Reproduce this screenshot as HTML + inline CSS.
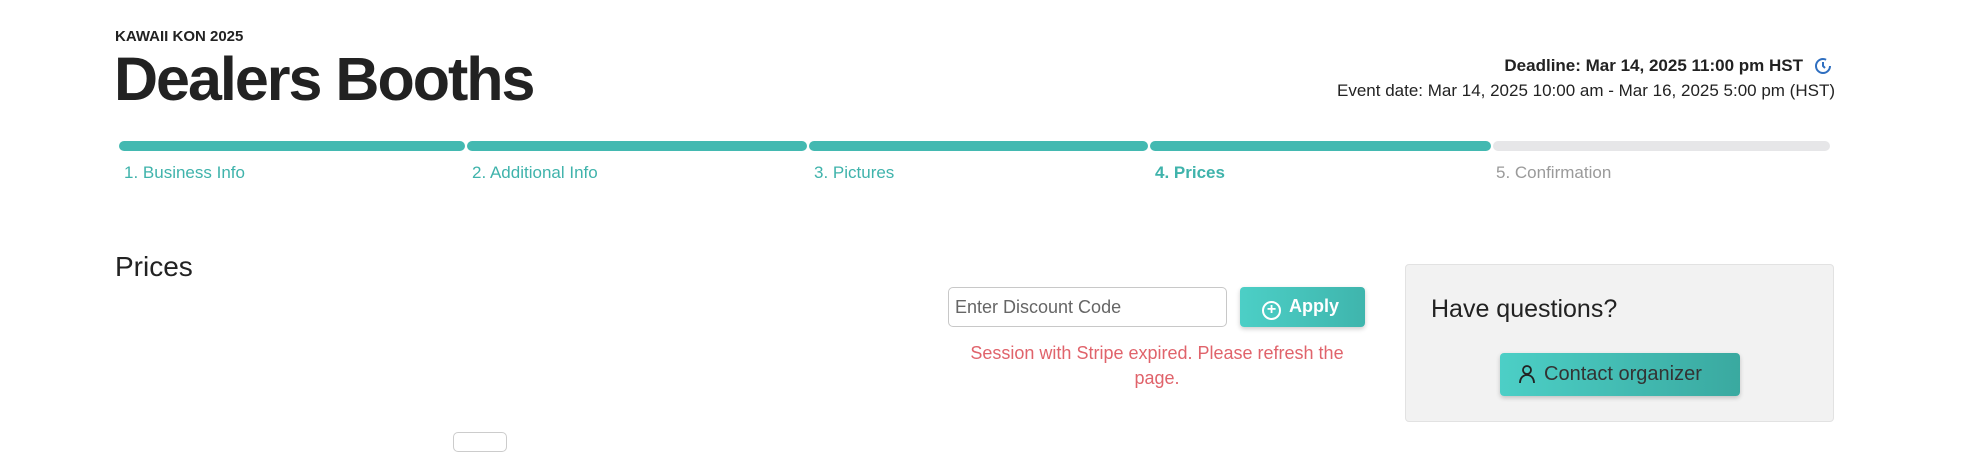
<!DOCTYPE html>
<html><head><meta charset="utf-8"><style>
*{margin:0;padding:0;box-sizing:border-box}
body{width:1963px;height:441px;overflow:hidden;background:#fff;font-family:"Liberation Sans",sans-serif;color:#222;position:relative}
.a{position:absolute;white-space:nowrap}
.seg{position:absolute;top:141px;height:10px;border-radius:5px;background:#43b9b1}
.lab{position:absolute;top:163px;font-size:17px;color:#3fb3ab}
</style></head><body>
<div class="a" style="left:115px;top:28px;font-size:15px;font-weight:bold;color:#222">KAWAII KON 2025</div>
<div class="a" style="left:114px;top:44px;font-size:61px;font-weight:bold;letter-spacing:-2px;color:#222">Dealers Booths</div>
<div class="a" style="right:160px;top:56px;font-size:17px;font-weight:bold">Deadline: Mar 14, 2025 11:00 pm HST</div>
<svg class="a" style="left:1813px;top:56px" width="20" height="20" viewBox="0 0 20 20"><circle cx="10" cy="10" r="7" fill="none" stroke="#2f6fc0" stroke-width="2" stroke-dasharray="36 8"/><path d="M10 6v4l2 2" stroke="#2f6fc0" stroke-width="2" fill="none"/></svg>
<div class="a" style="right:128px;top:81px;font-size:17px">Event date: Mar 14, 2025 10:00 am - Mar 16, 2025 5:00 pm (HST)</div>
<div class="seg" style="left:119px;width:346px"></div>
<div class="seg" style="left:467px;width:340px"></div>
<div class="seg" style="left:809px;width:339px"></div>
<div class="seg" style="left:1150px;width:341px"></div>
<div class="seg" style="left:1493px;width:337px;background:#e6e6e8"></div>
<div class="lab" style="left:124px">1. Business Info</div>
<div class="lab" style="left:472px">2. Additional Info</div>
<div class="lab" style="left:814px">3. Pictures</div>
<div class="lab" style="left:1155px;font-weight:bold">4. Prices</div>
<div class="lab" style="left:1496px;color:#9a9a9a">5. Confirmation</div>
<div class="a" style="left:115px;top:251px;font-size:28px">Prices</div>
<div class="a" style="left:948px;top:287px;width:279px;height:40px;border:1px solid #c8c8c8;border-radius:5px;font-size:18px;color:#666;padding:9px 6px">Enter Discount Code</div>
<div class="a" style="left:1240px;top:287px;width:125px;height:40px;border-radius:4px;background:linear-gradient(90deg,#4ccfc6,#3fb5ad);box-shadow:0 2px 5px rgba(0,0,0,.2);color:#fff;font-size:18px;font-weight:bold;padding:9px 0 0 22px"><span style="display:inline-block;width:19px;height:19px;border:2px solid #fff;border-radius:50%;text-align:center;line-height:14px;font-size:16px;margin-right:8px;vertical-align:-2px">+</span>Apply</div>
<div class="a" style="left:957px;top:341px;width:400px;text-align:center;font-size:18px;color:#e0636b;white-space:normal;line-height:25px">Session with Stripe expired. Please refresh the page.</div>
<div class="a" style="left:1405px;top:264px;width:429px;height:158px;background:#f2f2f2;border:1px solid #e2e2e2;border-radius:4px"></div>
<div class="a" style="left:1431px;top:295px;font-size:25px">Have questions?</div>
<div class="a" style="left:1500px;top:353px;width:240px;height:43px;border-radius:4px;background:linear-gradient(90deg,#4ccfc6,#3aa9a0);box-shadow:0 2px 5px rgba(0,0,0,.2);font-size:20px;color:#333;padding:10px 0 0 44px">Contact organizer</div>
<svg class="a" style="left:1519px;top:364px" width="16" height="20" viewBox="0 0 16 20"><circle cx="8" cy="6" r="4" fill="none" stroke="#222" stroke-width="1.8"/><path d="M1 19c0-5 3-8 7-8s7 3 7 8" fill="none" stroke="#222" stroke-width="1.8"/></svg>
<div class="a" style="left:453px;top:432px;width:54px;height:20px;border:1px solid #ccc;border-radius:5px"></div>
</body></html>
